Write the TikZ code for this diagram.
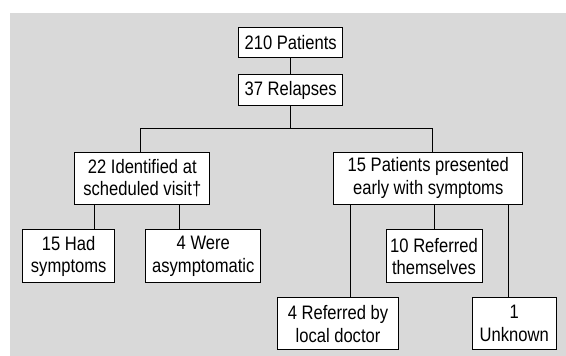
\documentclass[tikz,border=0pt]{standalone}
\usepackage{fontspec}
\setmainfont[FakeStretch=0.85]{Liberation Sans}
\begin{document}
\begin{tikzpicture}[x=1pt,y=-1pt,
  box/.style={draw=black, line width=1pt, fill=white, align=center, inner sep=0pt,
    font=\fontsize{19.5}{22.5}\selectfont},
  link/.style={draw=black, line width=1pt}]
\useasboundingbox (0,0) rectangle (566,356);
\fill[black!15] (10,12.7) rectangle (566,356);
% level 0-1
\node[box, minimum width=104pt, minimum height=30pt] (p210) at (290.7,42.3) {210 Patients};
\node[box, minimum width=104pt, minimum height=31.3pt] (r37) at (290.7,90.3) {37 Relapses};
% level 2
\node[box, minimum width=135.3pt, minimum height=52pt] (i22) at (142.3,178) {22 Identified at\\scheduled visit†};
\node[box, minimum width=188.7pt, minimum height=52pt] (p15) at (428.3,178) {15 Patients presented\\early with symptoms};
% level 3
\node[box, minimum width=92pt, minimum height=52.7pt] (h15) at (68.7,256.3) {15 Had\\symptoms};
\node[box, minimum width=115.3pt, minimum height=52.7pt] (w4) at (203.3,256.3) {4 Were\\asymptomatic};
\node[box, minimum width=96pt, minimum height=52.7pt] (r10) at (434,256.3) {10 Referred\\themselves};
% level 4
\node[box, minimum width=120.7pt, minimum height=52.3pt] (rd4) at (338,323.8) {4 Referred by\\local doctor};
\node[box, minimum width=83.7pt, minimum height=51.6pt] (u1) at (514.2,323.5) {1\\Unknown};
% connectors
\coordinate (bus) at (290.7,128.7);
\draw[link] (p210) -- (r37);
\draw[link] (r37) -- (bus);
\draw[link] ([xshift=-1.6pt]i22.north) |- (bus) -| ([xshift=4.4pt]p15.north);
\draw[link] ([xshift=-48.3pt]i22.south) -- ([xshift=-48.3pt]i22.south |- h15.north);
\draw[link] ([xshift=37pt]i22.south) -- ([xshift=37pt]i22.south |- w4.north);
\draw[link] ([xshift=-78.3pt]p15.south) -- ([xshift=-78.3pt]p15.south |- rd4.north);
\draw[link] ([xshift=6pt]p15.south) -- ([xshift=6pt]p15.south |- r10.north);
\draw[link] ([xshift=80pt]p15.south) -- ([xshift=80pt]p15.south |- u1.north);
\end{tikzpicture}
\end{document}
